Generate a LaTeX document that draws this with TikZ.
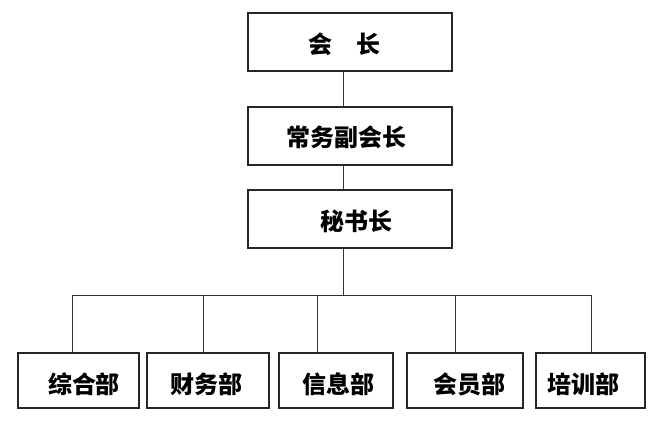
\documentclass[tikz,border=0pt]{standalone}
\usepackage{fontspec}
\newfontfamily\cjk{Noto Sans CJK SC}
\begin{document}
\begin{tikzpicture}[x=1pt,y=-1pt,
  box/.style={draw=black!85,line width=1.1pt,inner sep=0pt},
  lbl/.style={font=\cjk\bfseries\fontsize{24}{28}\selectfont,inner sep=0pt,anchor=center},
  link/.style={draw=black!80,line width=0.9pt}]
\useasboundingbox (0,0) rectangle (667,422);
% top column boxes
\node[box,minimum width=204pt,minimum height=58pt] (b0) at (350,42) {};
\node[box,minimum width=204pt,minimum height=58pt] (b1) at (350,136) {};
\node[box,minimum width=204pt,minimum height=58pt] (b2) at (350,219) {};
\node[lbl] (t0) at (344,44) {会\hspace{1em}长};
\node[lbl] (t1) at (346,137.5) {常务副会长};
\node[lbl] (t2) at (356,221) {秘书长};
% bottom boxes
\node[box,minimum width=121pt,minimum height=55pt] (d1) at (78.5,380.5) {};
\node[box,minimum width=122pt,minimum height=55pt] (d2) at (208,380.5) {};
\node[box,minimum width=114pt,minimum height=55pt] (d3) at (336,380.5) {};
\node[box,minimum width=116pt,minimum height=55pt] (d4) at (465,380.5) {};
\node[box,minimum width=109pt,minimum height=55pt] (d5) at (590.5,380.5) {};
\node[lbl] (s1) at (84,384) {综合部};
\node[lbl] (s2) at (206,384) {财务部};
\node[lbl] (s3) at (338,384) {信息部};
\node[lbl] (s4) at (469.5,384) {会员部};
\node[lbl] (s5) at (583.5,384) {培训部};
% connectors
\coordinate (m) at (343,295.5);
\coordinate (p1) at (72,295.5);
\coordinate (p2) at (203,295.5);
\coordinate (p3) at (317,295.5);
\coordinate (p4) at (455,295.5);
\coordinate (p5) at (591,295.5);
\draw[link] (b0.south -| m) -- (b1.north -| m);
\draw[link] (b1.south -| m) -- (b2.north -| m);
\draw[link] (b2.south -| m) -- (m);
\draw[link] (p1) -- (p5);
\draw[link] (p1) -- (p1 |- d1.north);
\draw[link] (p2) -- (p2 |- d2.north);
\draw[link] (p3) -- (p3 |- d3.north);
\draw[link] (p4) -- (p4 |- d4.north);
\draw[link] (p5) -- (p5 |- d5.north);
\end{tikzpicture}
\end{document}
